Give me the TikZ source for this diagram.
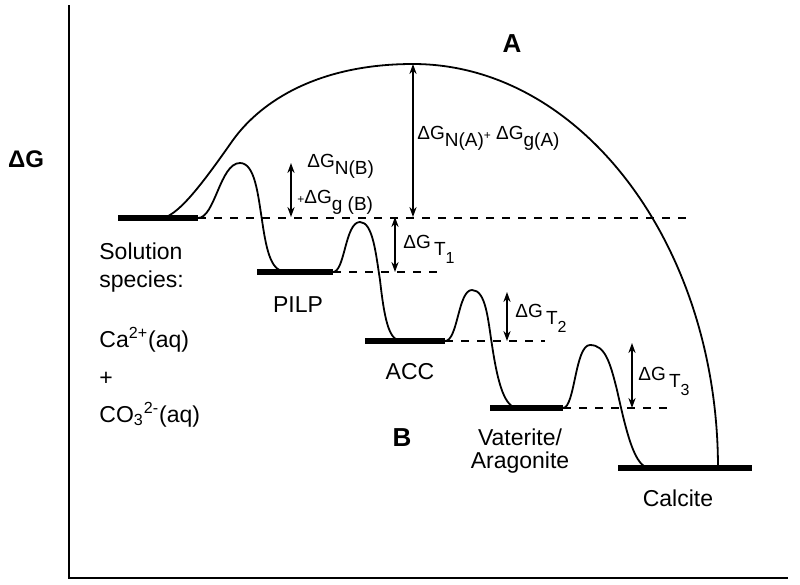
\documentclass[tikz,border=0pt]{standalone}
\usepackage{fontspec}
\setmainfont{Liberation Sans}
\usetikzlibrary{arrows.meta}
\newcommand\dgsub[1]{\raisebox{-0.75ex}{#1}}
\begin{document}
\begin{tikzpicture}[x=0.5pt,y=-0.5pt,
  axis/.style={line width=1.2pt},
  level/.style={line width=2.6pt},
  curve/.style={line width=0.9pt, line join=round},
  guide/.style={dash pattern=on 4pt off 4pt, line width=0.6pt},
  darrow/.style={{Stealth[length=5pt,width=3.6pt]}-{Stealth[length=5pt,width=3.6pt]}, line width=0.7pt},
  lbl/.style={font=\fontsize{11.5}{14}\selectfont, inner sep=0pt},
  slbl/.style={font=\fontsize{11.5}{14}\selectfont, inner sep=0pt, anchor=base west},
  elbl/.style={font=\fontsize{9.5}{11}\selectfont, inner sep=0pt, anchor=base west},
  big/.style={font=\bfseries\fontsize{12}{14}\selectfont, inner sep=0pt}]
\useasboundingbox (0,0) rectangle (800,585);

% axes
\coordinate (ytop) at (69,5);
\coordinate (origin) at (69,578);
\coordinate (xend) at (788,578);
\draw[axis] (ytop) -- (origin) -- (xend);

% energy levels
\coordinate (s1) at (118,218); \coordinate (s2) at (198,218);
\coordinate (p1) at (257,272); \coordinate (p2) at (333,272);
\coordinate (a1) at (365,341); \coordinate (a2) at (445,341);
\coordinate (v1) at (490,408); \coordinate (v2) at (563,408);
\coordinate (c1) at (618,468); \coordinate (c2) at (752,468);
\draw[level] (s1) -- (s2);
\draw[level] (p1) -- (p2);
\draw[level] (a1) -- (a2);
\draw[level] (v1) -- (v2);
\draw[level] (c1) -- (c2);

% dashed guides
\coordinate (sd) at (690,218);
\coordinate (pd) at (440,272);
\coordinate (ad) at (545,341);
\coordinate (vd) at (670,408);
\draw[guide] (s2) -- (sd);
\draw[guide] (p2) -- (pd);
\draw[guide] (a2) -- (ad);
\draw[guide] (v2) -- (vd);

% path A
\coordinate (A0) at (163,218);
\coordinate (Atop) at (413,64);
\coordinate (A1) at (718,468);
\draw[curve] (A0) .. controls (180,214) and (205,180) .. (233,140)
  .. controls (262,100) and (320,64) .. (Atop)
  .. controls (581,64) and (718,245) .. (A1);

% path B
\draw[curve] (s2) .. controls (215,218) and (220,163) .. (240,163)
  .. controls (255,163) and (258,195) .. (262,220)
  .. controls (267,255) and (272,272) .. (287,272);
\draw[curve] (p2) .. controls (345,272) and (345,222) .. (360,222)
  .. controls (373,222) and (376,255) .. (380,280)
  .. controls (385,325) and (390,341) .. (402,341);
\draw[curve] (a2) .. controls (458,341) and (458,290) .. (472,290)
  .. controls (486,290) and (488,320) .. (492,345)
  .. controls (498,385) and (505,408) .. (518,408);
\draw[curve] (v2) .. controls (575,408) and (575,345) .. (590,345)
  .. controls (605,345) and (610,362) .. (617,390)
  .. controls (627,435) and (635,468) .. (650,468);

% double arrows
\coordinate (nbT) at (291,163); \coordinate (nbB) at (291,217);
\coordinate (naT) at (413,64);  \coordinate (naB) at (413,217);
\coordinate (t1T) at (395,217); \coordinate (t1B) at (395,272);
\coordinate (t2T) at (507,292); \coordinate (t2B) at (507,341);
\coordinate (t3T) at (632,343); \coordinate (t3B) at (632,408);
\draw[darrow] (nbT) -- (nbB);
\draw[darrow] (naT) -- (naB);
\draw[darrow] (t1T) -- (t1B);
\draw[darrow] (t2T) -- (t2B);
\draw[darrow] (t3T) -- (t3B);

% energy labels
\node[elbl] (lNB) at (307,167) {ΔG\dgsub{N(B)}};
\node[elbl] (lgB) at (297,203) {{\fontsize{6}{6}\selectfont +}ΔG\dgsub{g (B)}};
\node[elbl] (lA) at (417,139) {ΔG\dgsub{N(A)}{\fontsize{6}{6}\selectfont +} ΔG\dgsub{g(A)}};
\node[elbl] (lT1) at (403,248) {ΔG\,\dgsub{T\dgsub{\fontsize{8}{8}\selectfont 1}}};
\node[elbl] (lT2) at (515,317) {ΔG\,\dgsub{T\dgsub{\fontsize{8}{8}\selectfont 2}}};
\node[elbl] (lT3) at (638,380) {ΔG\,\dgsub{T\dgsub{\fontsize{8}{8}\selectfont 3}}};

% big labels
\node[big] (dG) at (26,159) {ΔG};
\node[big, font=\bfseries\fontsize{13}{14}\selectfont] (lAbig) at (512,44) {A};
\node[big, font=\bfseries\fontsize{13}{14}\selectfont] (lBbig) at (402,438) {B};

% species labels
\node[slbl] (sol1) at (99,259) {Solution};
\node[slbl] (sol2) at (99,287) {species:};
\node[slbl] (ca) at (99,347) {Ca\textsuperscript{2+}(aq)};
\node[slbl] (plus) at (99,385) {+};
\node[slbl] (co3) at (99,422) {CO\textsubscript{3}\textsuperscript{2-}(aq)};
\node[lbl] (pilp) at (298,305) {PILP};
\node[lbl] (acc) at (410,372) {ACC};
\node[lbl] (vat) at (520,437) {Vaterite/};
\node[lbl] (ara) at (520,463) {Aragonite};
\node[lbl] (cal) at (678,498) {Calcite};
\end{tikzpicture}
\end{document}
